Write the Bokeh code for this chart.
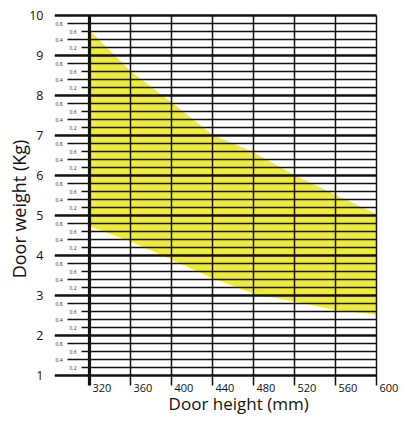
from bokeh.plotting import figure
from bokeh.models import Range1d, LinearAxis, FixedTicker, Label, ColumnDataSource
from bokeh.core.properties import value
from bokeh.embed import file_html
from bokeh.resources import INLINE

# ---- data ----
door_height = [320, 360, 400, 440, 480, 520, 560, 600]
weight_max = [9.63, 8.61, 7.83, 7.02, 6.58, 6.01, 5.52, 5.04]
weight_min = [4.73, 4.35, 3.90, 3.43, 3.05, 2.85, 2.64, 2.52]

x_ticks = [320, 360, 400, 440, 480, 520, 560, 600]
x_tick_labels = ["320", "360", "400", "440", "480", "520", "560", "600"]
y_major = [1, 2, 3, 4, 5, 6, 7, 8, 9, 10]
y_minor_steps = [0.2, 0.4, 0.6, 0.8]
y_minor_labels = ["0.2", "0.4", "0.6", "0.8"]

# ---- layout / style ----
W, H = 400, 417
LEFT = 54
PX_PER_MM = (376 - 89) / 280
X0 = 320 - (89 - LEFT) / PX_PER_MM
X1 = X0 + (W - LEFT) / PX_PER_MM
PX_PER_KG = (375 - 15) / 9
Y1 = 10 + 15 / PX_PER_KG
Y0 = 1 - (H - 375) / PX_PER_KG
FONT = "Open Sans"
YELLOW = "#eeea3e"
INK = "#111111"

px_x = 1 / PX_PER_MM
px_y = 1 / PX_PER_KG

p = figure(width=W, height=H, x_range=Range1d(X0, X1), y_range=Range1d(Y0, Y1),
           x_axis_type=None, y_axis_type=None, output_backend="svg",
           toolbar_location=None, min_border_left=LEFT, min_border_right=0,
           min_border_top=0, min_border_bottom=0)
p.outline_line_color = None
p.background_fill_color = "white"
p.border_fill_color = "white"

# band
p.varea(x=door_height, y1=weight_min, y2=weight_max, fill_color=YELLOW)

# minor horizontal lines + labels
indent = {0.2: 27, 0.4: 13, 0.6: 27, 0.8: 13}
mx0, my, mlab = [], [], []
for m in y_major[:-1]:
    for s, lab in zip(y_minor_steps, y_minor_labels):
        mx0.append(X0 + indent[s] * px_x)
        my.append(m + s)
        mlab.append(lab)
minor_src = ColumnDataSource(dict(x0=mx0, x1=[x_ticks[-1]] * len(mx0), y=my, lab=mlab))
p.segment(x0="x0", y0="y", x1="x1", y1="y", source=minor_src, line_color=INK, line_width=1.3)
p.text(x="x0", y="y", text="lab", source=minor_src, x_offset=-5, text_align="right",
       text_baseline="middle", text_font=value(FONT), text_font_size="5px", text_color="#222222")

# major horizontal lines
p.segment(x0=[X0] * len(y_major), y0=y_major, x1=[x_ticks[-1]] * len(y_major), y1=y_major,
          line_color=INK, line_width=2.5)

# vertical lines (extend below 1 as ticks)
tick_bottom = 1 - 10 * px_y
vw = [3.2 if t == x_ticks[0] else 1.5 for t in x_ticks]
p.segment(x0=x_ticks, y0=[y_major[-1]] * len(x_ticks), x1=x_ticks, y1=[tick_bottom] * len(x_ticks),
          line_color=INK, line_width=vw)

# x tick labels (to the right of each tick)
p.text(x=x_ticks, y=[1 - 12 * px_y] * len(x_ticks), text=x_tick_labels, x_offset=3,
       text_align="left", text_baseline="middle", text_font=value(FONT),
       text_font_size="11px", text_color=INK)

# y axis with major labels and title
yaxis = LinearAxis(ticker=FixedTicker(ticks=y_major, minor_ticks=[]),
                   axis_line_color=None, major_tick_line_color=None,
                   minor_tick_line_color=None, major_label_standoff=5,
                   major_label_text_font=FONT, major_label_text_font_size="12.5px",
                   major_label_text_color=INK,
                   axis_label="Door weight (Kg)", axis_label_standoff=-5,
                   axis_label_text_font=FONT, axis_label_text_font_size="18px",
                   axis_label_text_font_style="normal", axis_label_text_color=INK)
p.add_layout(yaxis, "left")

# x axis title
p.add_layout(Label(x=(x_ticks[0] + x_ticks[-1]) / 2 + 5.5, y=1 - 28 * px_y, text="Door height (mm)",
                   text_align="center", text_baseline="middle", text_font=FONT,
                   text_font_size="17px", text_color=INK))

open("out.html", "w").write(file_html(p, INLINE))
